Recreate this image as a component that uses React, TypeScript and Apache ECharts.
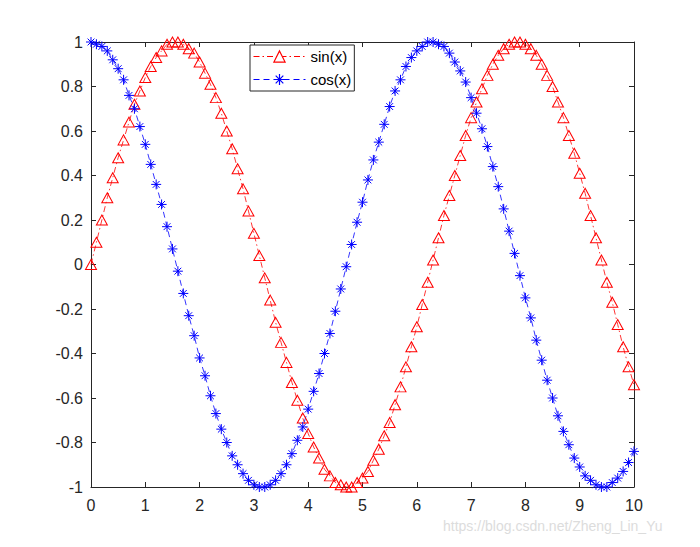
import React, { useEffect, useRef } from "react";
import * as echarts from "echarts";

const xValues = [
  0, 0.1, 0.2, 0.3, 0.4, 0.5, 0.6, 0.7, 0.8, 0.9,
  1, 1.1, 1.2, 1.3, 1.4, 1.5, 1.6, 1.7, 1.8, 1.9,
  2, 2.1, 2.2, 2.3, 2.4, 2.5, 2.6, 2.7, 2.8, 2.9,
  3, 3.1, 3.2, 3.3, 3.4, 3.5, 3.6, 3.7, 3.8, 3.9,
  4, 4.1, 4.2, 4.3, 4.4, 4.5, 4.6, 4.7, 4.8, 4.9,
  5, 5.1, 5.2, 5.3, 5.4, 5.5, 5.6, 5.7, 5.8, 5.9,
  6, 6.1, 6.2, 6.3, 6.4, 6.5, 6.6, 6.7, 6.8, 6.9,
  7, 7.1, 7.2, 7.3, 7.4, 7.5, 7.6, 7.7, 7.8, 7.9,
  8, 8.1, 8.2, 8.3, 8.4, 8.5, 8.6, 8.7, 8.8, 8.9,
  9, 9.1, 9.2, 9.3, 9.4, 9.5, 9.6, 9.7, 9.8, 9.9,
  10,
];

const sinValues = [
  0.0, 0.1, 0.2, 0.3, 0.39, 0.48, 0.56, 0.64, 0.72, 0.78,
  0.84, 0.89, 0.93, 0.96, 0.99, 1.0, 1.0, 0.99, 0.97, 0.95,
  0.91, 0.86, 0.81, 0.75, 0.68, 0.6, 0.52, 0.43, 0.34, 0.24,
  0.14, 0.04, -0.06, -0.16, -0.26, -0.35, -0.44, -0.53, -0.61, -0.69,
  -0.76, -0.82, -0.87, -0.92, -0.95, -0.98, -0.99, -1.0, -1.0, -0.98,
  -0.96, -0.93, -0.88, -0.83, -0.77, -0.71, -0.63, -0.55, -0.46, -0.37,
  -0.28, -0.18, -0.08, 0.02, 0.12, 0.22, 0.31, 0.4, 0.49, 0.58,
  0.66, 0.73, 0.79, 0.85, 0.9, 0.94, 0.97, 0.99, 1.0, 1.0,
  0.99, 0.97, 0.94, 0.9, 0.85, 0.8, 0.73, 0.66, 0.58, 0.5,
  0.41, 0.32, 0.22, 0.12, 0.02, -0.08, -0.17, -0.27, -0.37, -0.46,
  -0.54,
];

const cosValues = [
  1.0, 0.99, 0.98, 0.96, 0.92, 0.88, 0.83, 0.76, 0.7, 0.62,
  0.54, 0.45, 0.36, 0.27, 0.17, 0.07, -0.03, -0.13, -0.23, -0.32,
  -0.42, -0.5, -0.59, -0.67, -0.74, -0.8, -0.86, -0.9, -0.94, -0.97,
  -0.99, -1.0, -1.0, -0.99, -0.97, -0.94, -0.9, -0.85, -0.79, -0.73,
  -0.65, -0.57, -0.49, -0.4, -0.31, -0.21, -0.11, -0.01, 0.09, 0.19,
  0.28, 0.38, 0.47, 0.55, 0.63, 0.71, 0.78, 0.83, 0.89, 0.93,
  0.96, 0.98, 1.0, 1.0, 0.99, 0.98, 0.95, 0.91, 0.87, 0.82,
  0.75, 0.68, 0.61, 0.53, 0.44, 0.35, 0.25, 0.15, 0.05, -0.05,
  -0.15, -0.24, -0.34, -0.43, -0.52, -0.6, -0.68, -0.75, -0.81, -0.87,
  -0.91, -0.95, -0.97, -0.99, -1.0, -1.0, -0.98, -0.96, -0.93, -0.89,
  -0.84,
];

const seriesNames = ["sin(x)", "cos(x)"];
const seriesColors = ["#ff0000", "#0000ff"];
const watermark = "https://blog.csdn.net/Zheng_Lin_Yu";

const AXIS_COLOR = "#262626";
const FONT = "'Liberation Sans', Arial, sans-serif";
const ASTERISK =
  "path://M5 0 L5 10 M0 5 L10 5 M1.6 1.6 L8.4 8.4 M1.6 8.4 L8.4 1.6";
const SIN_DASH = [6, 3, 1.5, 3];
const COS_DASH = [6, 4];

export default function App() {
  const ref = useRef<HTMLDivElement>(null);

  useEffect(() => {
    if (!ref.current) return;
    const chart = echarts.init(ref.current, null, { renderer: "svg" });

    const sinData = xValues.map((x, i) => [x, sinValues[i]]);
    const cosData = xValues.map((x, i) => [x, cosValues[i]]);

    const axisCommon = {
      type: "value" as const,
      axisLine: { show: true, onZero: false, lineStyle: { color: AXIS_COLOR, width: 1 } },
      axisTick: { show: true, inside: true, length: 5, lineStyle: { color: AXIS_COLOR } },
      splitLine: { show: false },
    };

    chart.setOption({
      animation: false,
      backgroundColor: "#ffffff",
      grid: { left: 91, right: 66, top: 42, bottom: 60, containLabel: false },
      xAxis: [
        {
          ...axisCommon,
          position: "bottom",
          min: 0,
          max: 10,
          interval: 1,
          axisLabel: { color: AXIS_COLOR, fontSize: 16, fontFamily: FONT, margin: 10 },
        },
        {
          ...axisCommon,
          position: "top",
          min: 0,
          max: 10,
          interval: 1,
          axisLabel: { show: false },
        },
      ],
      yAxis: [
        {
          ...axisCommon,
          position: "left",
          min: -1,
          max: 1,
          interval: 0.2,
          axisLabel: {
            color: AXIS_COLOR,
            fontSize: 16,
            fontFamily: FONT,
            margin: 8,
            formatter: (v: number) => {
              const r = Math.round(v * 10) / 10;
              return r === 0 ? "0" : String(r);
            },
          },
        },
        {
          ...axisCommon,
          position: "right",
          min: -1,
          max: 1,
          interval: 0.2,
          axisLabel: { show: false },
        },
      ],
      legend: {
        orient: "vertical",
        left: 250,
        top: 45,
        padding: [4, 3, 4, 3],
        itemGap: 8,
        itemWidth: 52,
        itemHeight: 14,
        backgroundColor: "#ffffff",
        borderColor: AXIS_COLOR,
        borderWidth: 1,
        borderRadius: 0,
        textStyle: { color: "#000000", fontSize: 15, fontFamily: FONT },
        data: [
          {
            name: seriesNames[0],
            itemStyle: { color: "#ffffff", borderColor: seriesColors[0], borderWidth: 1.2 },
            lineStyle: { color: seriesColors[0], width: 1, type: SIN_DASH },
          },
          {
            name: seriesNames[1],
            itemStyle: { color: "#ffffff", borderColor: seriesColors[1], borderWidth: 1.2 },
            lineStyle: { color: seriesColors[1], width: 1, type: COS_DASH },
          },
        ],
      },
      series: [
        {
          name: seriesNames[0],
          type: "line",
          data: sinData,
          symbol: "triangle",
          symbolSize: [11, 10],
          showAllSymbol: true,
          lineStyle: { color: seriesColors[0], width: 0.8, type: SIN_DASH },
          itemStyle: { color: "transparent", borderColor: seriesColors[0], borderWidth: 1 },
        },
        {
          name: seriesNames[1],
          type: "line",
          data: cosData,
          symbol: ASTERISK,
          symbolSize: 10,
          showAllSymbol: true,
          lineStyle: { color: seriesColors[1], width: 0.8, type: COS_DASH },
          itemStyle: { color: "transparent", borderColor: seriesColors[1], borderWidth: 1 },
        },
      ],
      graphic: [
        {
          type: "text",
          left: 443,
          top: 519,
          style: { text: watermark, fill: "#dcdcdc", font: `14px ${FONT}` },
        },
      ],
    });

    return () => chart.dispose();
  }, []);

  return (
    <div
      ref={ref}
      style={{ position: "fixed", left: 0, top: 0, width: 700, height: 547 }}
    />
  );
}
